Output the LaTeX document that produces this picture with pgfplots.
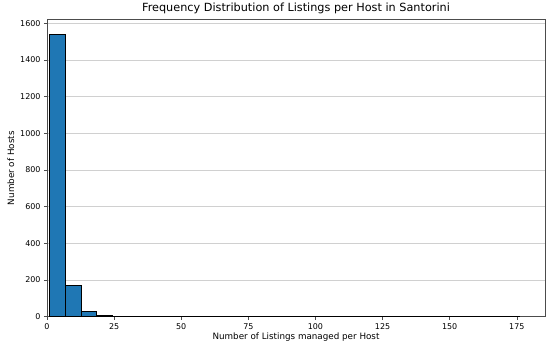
\documentclass[border=0pt]{standalone}
\usepackage{pgfplots}
\pgfplotsset{compat=1.18}
\usepackage{fontspec}
\setmainfont{DejaVu Sans}
\definecolor{barblue}{HTML}{1F77B4}
\definecolor{gridgray}{HTML}{D0D0D0}
\begin{document}
\begin{tikzpicture}
\path (-47bp,-33bp) rectangle (503bp,316bp);
\begin{axis}[
  at={(0,0)}, anchor=south west,
  scale only axis, width=498bp, height=297bp,
  xmin=0, xmax=185.5, ymin=0, ymax=1620,
  xtick={0,25,50,75,100,125,150,175},
  ytick={0,200,400,600,800,1000,1200,1400,1600},
  ymajorgrids, grid style={gridgray, line width=0.6pt},
  axis line style={black!70, line width=0.6pt},
  tick style={black!70, line width=0.6pt},
  tick align=outside, xtick pos=bottom, ytick pos=left,
  major tick length=3bp,
  /pgf/number format/assume math mode=true,
  /pgf/number format/1000 sep={},
  tick label style={font=\fontsize{8}{9.5}\selectfont},
  label style={font=\fontsize{8.8}{10.5}\selectfont},
  title style={font=\fontsize{11.3}{13}\selectfont, yshift=-4bp},
  title={Frequency Distribution of Listings per Host in Santorini},
  xlabel={Number of Listings managed per Host},
  ylabel={Number of Hosts},
  xlabel style={yshift=3bp},
  ylabel style={yshift=-1bp},
]
\addplot[ybar interval, fill=barblue, draw=black, line width=0.6pt] table {
x y
1.0000 1542
6.8333 169
12.6667 28
18.5000 7
24.3333 2
30.1667 2
36.0000 0
41.8333 2
47.6667 0
53.5000 0
59.3333 0
65.1667 0
71.0000 0
76.8333 0
82.6667 0
88.5000 0
94.3333 0
100.1667 0
106.0000 1
111.8333 1
117.6667 0
123.5000 0
129.3333 0
135.1667 0
141.0000 0
146.8333 0
152.6667 0
158.5000 0
164.3333 0
170.1667 1
176.0000 1
};
\end{axis}
\end{tikzpicture}
\end{document}
